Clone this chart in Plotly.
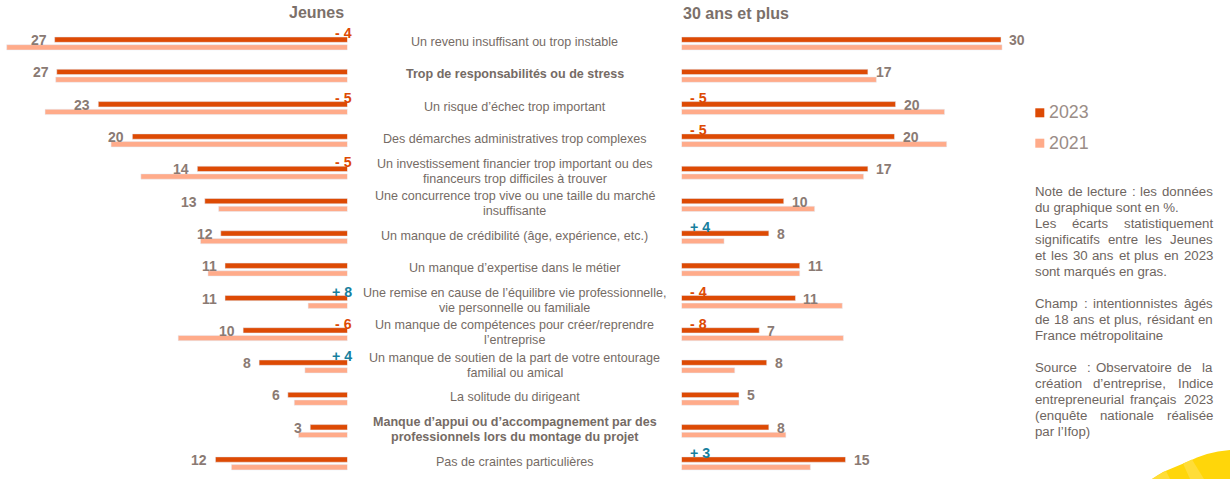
import unicodedata

import plotly.graph_objects as go

# values (bars are slightly off the printed labels)
categories = [
    "Un revenu insuffisant ou trop instable",
    "Trop de responsabilités ou de stress",
    "Un risque d’échec trop important",
    "Des démarches administratives trop complexes",
    "Un investissement financier trop important ou des\nfinanceurs trop difficiles à trouver",
    "Une concurrence trop vive ou une taille du marché\ninsuffisante",
    "Un manque de crédibilité (âge, expérience, etc.)",
    "Un manque d’expertise dans le métier",
    "Une remise en cause de l’équilibre vie professionnelle,\nvie personnelle ou familiale",
    "Un manque de compétences pour créer/reprendre\nl’entreprise",
    "Un manque de soutien de la part de votre entourage\nfamilial ou amical",
    "La solitude du dirigeant",
    "Manque d’appui ou d’accompagnement par des\nprofessionnels lors du montage du projet",
    "Pas de craintes particulières",
]
bold_categories = [1, 12]

jeunes_2023 = [27.5, 27.3, 23.4, 20.2, 14.1, 13.4, 11.9, 11.5, 11.5, 9.8, 8.3, 5.6, 3.5, 12.4]
jeunes_2021 = [32.0, 27.4, 28.4, 22.2, 19.4, 12.1, 13.8, 13.1, 3.7, 15.9, 4.0, 5.0, 4.6, 10.9]
plus30_2023 = [30.0, 17.5, 20.1, 20.0, 17.5, 9.6, 8.2, 11.1, 10.7, 7.3, 8.0, 5.4, 8.2, 15.4]
plus30_2021 = [30.1, 18.3, 24.7, 24.9, 17.1, 12.5, 4.0, 11.1, 15.1, 15.2, 5.0, 5.4, 9.8, 12.1]

jeunes_labels = [27, 27, 23, 20, 14, 13, 12, 11, 11, 10, 8, 6, 3, 12]
plus30_labels = [30, 17, 20, 20, 17, 10, 8, 11, 11, 7, 8, 5, 8, 15]

jeunes_delta = [-4, None, -5, None, -5, None, None, None, 8, -6, 4, None, None, None]
plus30_delta = [None, None, -5, -5, None, None, 4, None, -4, -8, None, None, None, 3]

# (line, justified?) - the note is justified in the original
note_lines = [
    ("Note de lecture : les données", True, 191.7),
    ("du graphique sont en %.", False, 207.7),
    ("Les écarts statistiquement", True, 223.7),
    ("significatifs entre les Jeunes", True, 239.7),
    ("et les 30 ans et plus en 2023", True, 255.7),
    ("sont marqués en gras.", False, 271.7),
    ("Champ : intentionnistes âgés", True, 303.7),
    ("de 18 ans et plus, résidant en", True, 319.7),
    ("France métropolitaine", False, 335.7),
    ("Source : Observatoire de la", True, 367.7),
    ("création d’entreprise, Indice", True, 383.7),
    ("entrepreneurial français 2023", True, 399.7),
    ("(enquête nationale réalisée", True, 415.7),
    ("par l’Ifop)", False, 431.7),
]

W, H = 1230, 479
FONT = "Liberation Sans"
DARK = "#DD4A04"
LIGHT = "#FFAB8A"
GREY = "#8A7A73"
TEXT = "#756B65"
NOTE = "#6E6560"
BLUE = "#167F9E"

PX_PER_UNIT = 10.65
ZERO_LEFT = 347.5
ZERO_RIGHT = 681.5
ROW_PX = 32.3
FIRST_ROW_TOP = 27.35
BAR_OFFSET = 0.119  # half the distance between the 2 bars of a row, in rows

# Arial/Liberation advance widths, needed to justify the note by hand
CHAR_WIDTHS = {
    "a": .556, "b": .556, "c": .5, "d": .556, "e": .556, "f": .278, "g": .556, "h": .556, "i": .222,
    "j": .222, "k": .5, "l": .222, "m": .833, "n": .556, "o": .556, "p": .556, "q": .556, "r": .333,
    "s": .5, "t": .278, "u": .556, "v": .5, "w": .722, "x": .5, "y": .5, "z": .5,
    "C": .722, "F": .611, "I": .278, "J": .5, "L": .556, "N": .722, "S": .667,
    ":": .278, ",": .278, ".": .278, "(": .333, ")": .333, "’": .222,
}


def px(x):
    return x / W


def py(y):
    return 1 - y / H


def word_width(word, size):
    plain = unicodedata.normalize("NFD", word)
    return sum(CHAR_WIDTHS.get(c, .556 if c.isdigit() else 0) for c in plain) * size


rows = list(range(len(categories)))
fig = go.Figure()


def add_bars(values, color, xaxis, name):
    fig.add_trace(go.Bar(y=rows, x=values, orientation="h", name=name, xaxis=xaxis, yaxis="y",
                         marker=dict(color=color), showlegend=False,
                         offsetgroup=name))


add_bars(jeunes_2023, DARK, "x", "2023")
add_bars(jeunes_2021, LIGHT, "x", "2021")
add_bars(plus30_2023, DARK, "x2", "2023")
add_bars(plus30_2021, LIGHT, "x2", "2021")

annotations = []


def text_at(**kw):
    font = kw.pop("font")
    annotations.append(dict(showarrow=False, font=dict(family=FONT, **font), **kw))


# value labels next to the end of the dark bar
for i in rows:
    text_at(x=jeunes_2023[i], y=i - BAR_OFFSET, xref="x", yref="y", text=str(jeunes_labels[i]),
            xanchor="right", yanchor="middle", xshift=-6, yshift=-0.5,
            font=dict(size=14, color=GREY, weight="bold"))
    text_at(x=plus30_2023[i], y=i - BAR_OFFSET, xref="x2", yref="y", text=str(plus30_labels[i]),
            xanchor="left", yanchor="middle", xshift=6, yshift=-0.5,
            font=dict(size=14, color=GREY, weight="bold"))


def delta_text(d):
    return f"- {-d}" if d < 0 else f"+ {d}"


for i in rows:
    if jeunes_delta[i] is not None:
        text_at(x=0, y=i - BAR_OFFSET, xref="x", yref="y", text=delta_text(jeunes_delta[i]),
                xanchor="right", yanchor="middle", xshift=6.5, yshift=6.5,
                font=dict(size=14.2, weight="bold", color=BLUE if jeunes_delta[i] > 0 else DARK))
    if plus30_delta[i] is not None:
        text_at(x=0, y=i - BAR_OFFSET, xref="x2", yref="y", text=delta_text(plus30_delta[i]),
                xanchor="left", yanchor="middle", xshift=6.5, yshift=6.5,
                font=dict(size=14.2, weight="bold", color=BLUE if plus30_delta[i] > 0 else DARK))

# category labels in the middle column
for i, label in enumerate(categories):
    lines = label.split("\n")
    for k, line in enumerate(lines):
        shift = (len(lines) - 1) / 2 * 15 - k * 15
        text_at(x=px(514.5), y=i - BAR_OFFSET, xref="paper", yref="y", text=line,
                xanchor="center", yanchor="middle", yshift=shift - 2.5,
                font=dict(size=12.55, color=TEXT, weight="bold" if i in bold_categories else "normal"))

# panel titles
text_at(x=px(346.5), y=py(12.5), xref="paper", yref="paper", text="Jeunes",
        xanchor="right", yanchor="middle", font=dict(size=16, color="#7B706A", weight="bold"))
text_at(x=px(680.5), y=py(13.5), xref="paper", yref="paper", text="30 ans et plus",
        xanchor="left", yanchor="middle", font=dict(size=16, color="#7B706A", weight="bold"))

# legend
shapes = []
for year, color, top, mid in [("2023", DARK, 108.3, 112), ("2021", LIGHT, 138.7, 142.7)]:
    shapes.append(dict(type="rect", xref="paper", yref="paper", x0=px(1035.3), x1=px(1044.3),
                       y0=py(top), y1=py(top + 9), fillcolor=color, line=dict(width=0)))
    text_at(x=px(1046.5), y=py(mid), xref="paper", yref="paper", text=year,
            xanchor="left", yanchor="middle", font=dict(size=17.8, color="#9A8D87"))

# note block, justified by hand since annotations cannot do it
NOTE_LEFT, NOTE_RIGHT, NOTE_SIZE = 1035.3, 1212.7, 13.25
PAD = 2  # annotations keep 2px around their text
for line, justified, y in note_lines:
    words = line.split(" ")
    if not justified:
        text_at(x=px(NOTE_LEFT - PAD), y=py(y), xref="paper", yref="paper", text=line,
                xanchor="left", yanchor="middle", font=dict(size=NOTE_SIZE, color=NOTE))
        continue
    widths = [word_width(w, NOTE_SIZE) for w in words]
    gap = (NOTE_RIGHT - NOTE_LEFT - sum(widths)) / (len(words) - 1)
    pos = NOTE_LEFT
    for k, w in enumerate(words):
        if k == 0:
            x, anchor = NOTE_LEFT - PAD, "left"
        elif k == len(words) - 1:
            x, anchor = NOTE_RIGHT + PAD, "right"
        else:
            x, anchor = pos + widths[k] / 2, "center"
        text_at(x=px(x), y=py(y), xref="paper", yref="paper", text=w,
                xanchor=anchor, yanchor="middle", font=dict(size=NOTE_SIZE, color=NOTE))
        pos += widths[k] + gap


def corner_path(points):
    d = "M" + " L".join(f"{px(x):.5f},{py(y):.5f}" for x, y in points) + " Z"
    return d


# yellow sun in the corner
shapes.append(dict(type="path", xref="paper", yref="paper", layer="below", line=dict(width=0),
                   fillcolor="#FFD60A",
                   path=corner_path([(1152, 479), (1163, 472), (1175, 467), (1187, 462), (1197, 457.5),
                                     (1207, 454), (1218, 451.5), (1230, 450), (1230, 479)])))
shapes.append(dict(type="path", xref="paper", yref="paper", layer="below", line=dict(width=0),
                   fillcolor="#FFDD38",
                   path=corner_path([(1183, 463.5), (1192, 459.5), (1204, 479), (1190, 479)])))
shapes.append(dict(type="path", xref="paper", yref="paper", layer="below", line=dict(width=0),
                   fillcolor="#FFDD38",
                   path=corner_path([(1152, 479), (1158, 475), (1166, 471), (1170, 479)])))

fig.update_layout(
    width=W, height=H,
    margin=dict(l=0, r=0, t=0, b=0, pad=0),
    paper_bgcolor="white", plot_bgcolor="rgba(0,0,0,0)",
    barmode="group", bargap=0.523, bargroupgap=0.31,
    showlegend=False,
    annotations=annotations, shapes=shapes,
    xaxis=dict(domain=[0, px(ZERO_LEFT)], range=[ZERO_LEFT / PX_PER_UNIT, 0], visible=False, fixedrange=True),
    xaxis2=dict(domain=[px(ZERO_RIGHT), px(1030)], range=[0, (1030 - ZERO_RIGHT) / PX_PER_UNIT],
                visible=False, fixedrange=True, anchor="y"),
    yaxis=dict(domain=[0, py(FIRST_ROW_TOP)], range=[(H - FIRST_ROW_TOP) / ROW_PX - 0.5, -0.5],
               visible=False, fixedrange=True),
)

fig.write_html("out.html", config=dict(displayModeBar=False),
               post_script="document.body.style.margin='0';")
